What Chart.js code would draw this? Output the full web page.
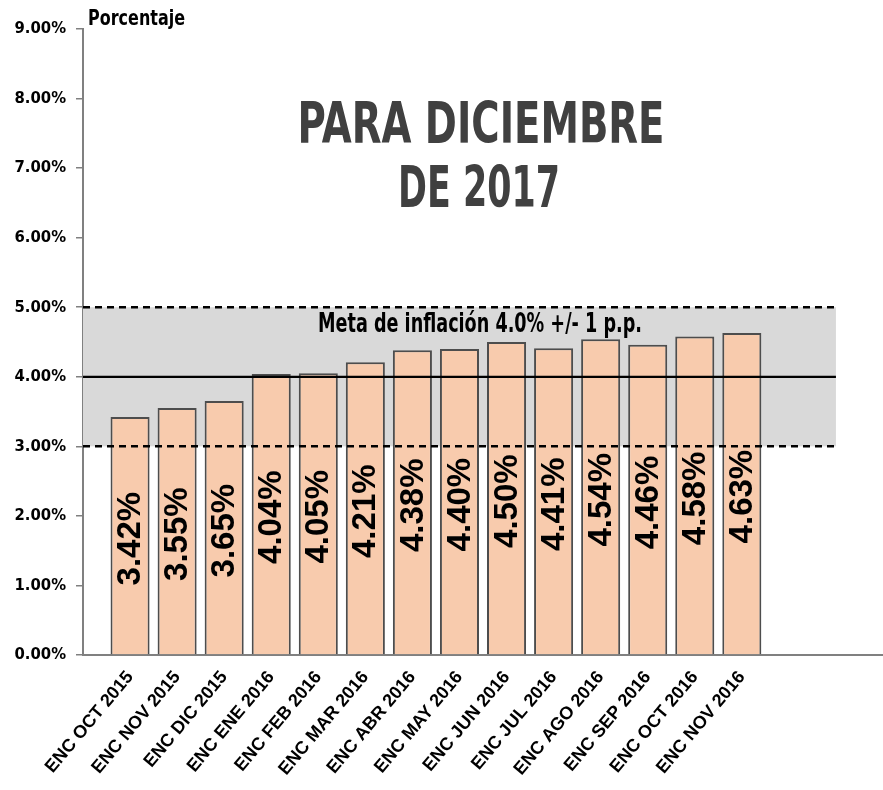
<!DOCTYPE html>
<html>
<head>
<meta charset="utf-8">
<script src="https://cdn.jsdelivr.net/npm/chart.js@4/dist/chart.umd.min.js"></script>
<style>
  html, body { margin: 0; padding: 0; background: #ffffff; }
  #wrap { width: 883px; height: 790px; }
</style>
</head>
<body>
<div id="wrap"><canvas id="c" width="883" height="790"></canvas></div>
<script>
// ---- data ----
const categories = ['ENC OCT 2015', 'ENC NOV 2015', 'ENC DIC 2015', 'ENC ENE 2016', 'ENC FEB 2016',
  'ENC MAR 2016', 'ENC ABR 2016', 'ENC MAY 2016', 'ENC JUN 2016', 'ENC JUL 2016', 'ENC AGO 2016',
  'ENC SEP 2016', 'ENC OCT 2016', 'ENC NOV 2016'];
const expectations = [3.42, 3.55, 3.65, 4.04, 4.05, 4.21, 4.38, 4.40, 4.50, 4.41, 4.54, 4.46, 4.58, 4.63];
const yTickValues = [0, 1, 2, 3, 4, 5, 6, 7, 8, 9];
const targetCenter = 4.0;
const targetLow = 3.0;
const targetHigh = 5.0;
const titleLines = ['PARA DICIEMBRE', 'DE 2017'];
const bandLabel = 'Meta de inflación 4.0% +/- 1 p.p.';
const yAxisTitle = 'Porcentaje';

// empty slot before and three after, as in the reference axis
const labels = [''].concat(categories, ['', '', '']);
const values = [null].concat(expectations, [null, null, null]);
const bandEndIndex = categories.length + 2;

const NARROW = "'DejaVu Sans Condensed', 'Liberation Sans Narrow', sans-serif";
const WIDE = "'Liberation Sans', Arial, sans-serif";

// draw text squeezed/stretched horizontally to a given width
function fittedText(ctx, text, x, baseline, font, width, align) {
  ctx.save();
  ctx.font = font;
  ctx.textAlign = 'left';
  ctx.textBaseline = 'alphabetic';
  const w = ctx.measureText(text).width;
  const sx = width / w;
  const left = align === 'center' ? x - width / 2 : x;
  ctx.translate(left, baseline);
  ctx.scale(sx, 1);
  ctx.fillText(text, 0, 0);
  ctx.restore();
}

const decor = {
  id: 'decor',
  beforeDatasetsDraw(chart) {
    const {ctx, scales: {x, y}} = chart;
    const x0 = x.getPixelForValue(0), x1 = x.getPixelForValue(bandEndIndex);
    ctx.save();
    ctx.fillStyle = '#d9d9d9';
    ctx.fillRect(x0, y.getPixelForValue(targetHigh), x1 - x0, y.getPixelForValue(targetLow) - y.getPixelForValue(targetHigh));
    ctx.restore();
  },
  afterDatasetsDraw(chart) {
    const {ctx, scales: {x, y}} = chart;
    const x0 = x.getPixelForValue(0), x1 = x.getPixelForValue(bandEndIndex);
    ctx.save();
    ctx.strokeStyle = '#000000';
    ctx.lineWidth = 2.5;
    ctx.setLineDash([7, 5]);
    [targetHigh, targetLow].forEach(v => {
      const py = y.getPixelForValue(v);
      ctx.beginPath(); ctx.moveTo(x0, py); ctx.lineTo(x1, py); ctx.stroke();
    });
    ctx.setLineDash([]);
    ctx.lineWidth = 2.2;
    const pc = y.getPixelForValue(targetCenter);
    ctx.beginPath(); ctx.moveTo(x0, pc); ctx.lineTo(x1, pc); ctx.stroke();

    // value labels inside bars, rotated
    const meta = chart.getDatasetMeta(0);
    ctx.fillStyle = '#000000';
    ctx.font = 'bold 33px ' + WIDE;
    ctx.textAlign = 'center';
    ctx.textBaseline = 'middle';
    meta.data.forEach((el, i) => {
      const v = values[i];
      if (v === null || v === undefined) return;
      const cy = (el.y + el.base) / 2 + 3;
      ctx.save();
      ctx.translate(el.x, cy);
      ctx.rotate(-Math.PI / 2);
      ctx.fillText(v.toFixed(2) + '%', 0, 1);
      ctx.restore();
    });

    // band label
    ctx.fillStyle = '#000000';
    fittedText(ctx, bandLabel, 480, 332, 'bold 27px ' + NARROW, 324, 'center');
    ctx.restore();
  },
  afterDraw(chart) {
    const {ctx} = chart;
    ctx.save();
    ctx.fillStyle = '#404040';
    fittedText(ctx, titleLines[0], 481, 143, 'bold 57px ' + NARROW, 367, 'center');
    fittedText(ctx, titleLines[1], 479, 207, 'bold 57px ' + NARROW, 162, 'center');
    ctx.fillStyle = '#000000';
    fittedText(ctx, yAxisTitle, 88, 25, 'bold 21px ' + NARROW, 97, 'left');
    ctx.restore();
  }
};

new Chart(document.getElementById('c'), {
  type: 'bar',
  data: {
    labels: labels,
    datasets: [{
      data: values,
      backgroundColor: '#f8cbad',
      borderColor: '#4d4d4d',
      borderWidth: 2,
      categoryPercentage: 1,
      barPercentage: 0.83
    }]
  },
  options: {
    responsive: false,
    animation: false,
    devicePixelRatio: 1,
    layout: { padding: { top: 29, right: 0, left: 0, bottom: 0 } },
    plugins: { legend: { display: false }, tooltip: { enabled: false }, title: { display: false } },
    scales: {
      x: {
        type: 'category',
        offset: false,
        grid: { display: true, drawOnChartArea: false, drawTicks: false },
        border: { display: true, color: '#808080', width: 2 },
        ticks: {
          autoSkip: false,
          minRotation: 50,
          maxRotation: 50,
          padding: 12,
          color: '#000000',
          font: { family: WIDE, size: 18, weight: 'bold' }
        },
        afterFit(scale) { scale.height = 135; scale.paddingLeft = 0; scale.paddingRight = 0; }
      },
      y: {
        min: 0,
        max: 9,
        afterBuildTicks(scale) { scale.ticks = yTickValues.map(v => ({ value: v })); },
        grid: { display: true, drawOnChartArea: false, drawTicks: true, tickLength: 7, color: '#808080', lineWidth: 1.5 },
        border: { display: true, color: '#808080', width: 2 },
        ticks: {
          padding: 10,
          color: '#000000',
          font: { family: NARROW, size: 16.5, weight: 'bold' },
          callback: v => Number(v).toFixed(2) + '%'
        },
        afterFit(scale) { scale.width = 83; }
      }
    }
  },
  plugins: [decor]
});
</script>
</body>
</html>
